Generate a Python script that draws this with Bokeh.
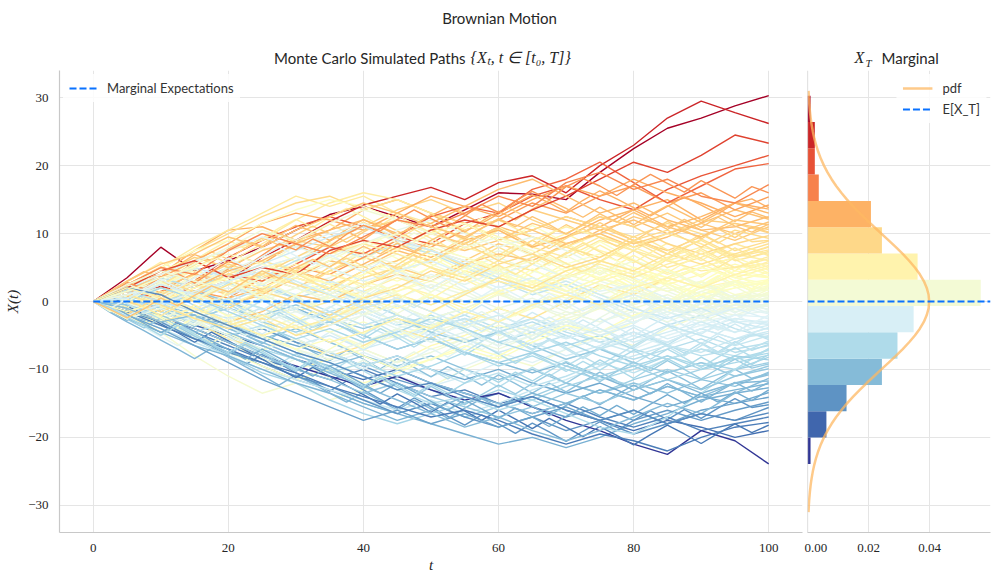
from bokeh.plotting import figure
from bokeh.layouts import column, row
from bokeh.models import (Range1d, ColumnDataSource, Legend, LegendItem, Span,
                          CustomJSTickFormatter, FixedTicker, NumeralTickFormatter)
from bokeh.core.properties import value
from bokeh.embed import file_html
from bokeh.resources import INLINE

# ---------------- data ----------------
t_values = [0, 5, 10, 15, 20, 25, 30, 35, 40, 45, 50, 55, 60, 65, 70, 75, 80, 85, 90, 95, 100]
t_fine = [0, 2.5, 5, 7.5, 10, 12.5, 15, 17.5, 20, 22.5, 25, 27.5, 30, 32.5, 35, 37.5, 40,
          42.5, 45, 47.5, 50, 52.5, 55, 57.5, 60, 62.5, 65, 67.5, 70, 72.5, 75, 77.5, 80,
          82.5, 85, 87.5, 90, 92.5, 95, 97.5, 100]

# simulated paths, values at t = 5, 10, ..., 100 (all start at X(0) = 0)
path_values = [
    [3.5, 8.0, 4.5, 6.0, 8.0, 10.5, 12.8, 14.0, 12.5, 11.0, 13.5, 16.0, 15.8, 15.0, 19.0, 22.5, 25.5, 27.0, 28.8, 30.3],
    [1.5, 2.2, 1.5, 3.0, 6.5, 9.0, 11.8, 14.2, 15.5, 16.8, 15.0, 17.5, 18.5, 16.0, 20.0, 23.0, 27.0, 29.5, 27.8, 26.2],
    [2.0, 4.5, 6.0, 3.5, 5.0, 4.0, 7.5, 9.0, 8.0, 10.5, 12.0, 11.0, 13.5, 15.5, 18.0, 20.5, 19.0, 21.5, 24.5, 23.3],
    [-1.0, 1.5, 3.0, 6.5, 9.0, 11.0, 12.5, 11.0, 9.5, 8.5, 11.5, 13.0, 15.5, 17.0, 15.0, 13.5, 16.5, 18.5, 20.0, 21.5],
    [1.5, 0.5, 2.5, 4.0, 3.0, 5.5, 8.0, 7.0, 9.5, 12.5, 14.0, 13.0, 16.5, 18.0, 20.5, 17.5, 14.5, 17.0, 19.5, 20.3],
    [2.5, 5.0, 4.0, 7.5, 10.0, 8.5, 7.0, 9.5, 12.0, 11.0, 13.0, 15.5, 14.0, 17.5, 19.0, 16.5, 18.0, 15.5, 14.5, 17.2],
    [-1.5, -0.5, 1.5, 0.5, 3.5, 5.0, 4.0, 6.5, 9.0, 8.0, 10.5, 12.0, 14.5, 13.0, 15.5, 17.0, 14.5, 16.0, 13.5, 15.4],
    [1.0, 3.5, 6.0, 8.5, 11.5, 13.0, 12.0, 10.5, 13.0, 15.5, 14.0, 12.5, 15.0, 17.0, 15.5, 18.0, 16.0, 14.5, 12.5, 14.2],
    [2.5, 4.0, 7.5, 10.5, 11.0, 9.0, 10.5, 13.5, 15.0, 13.0, 11.5, 9.0, 10.5, 12.5, 11.0, 13.5, 15.0, 12.0, 14.5, 13.6],
    [-0.5, 1.0, -1.5, 0.5, 2.0, 4.5, 3.0, 5.5, 8.0, 6.5, 9.0, 10.5, 8.0, 9.5, 12.0, 13.5, 11.0, 12.5, 14.5, 13.0],
    [1.5, 0.0, 2.0, 4.5, 6.0, 8.5, 10.5, 12.0, 10.0, 11.5, 14.0, 16.5, 18.0, 15.5, 13.0, 14.5, 12.0, 10.5, 11.0, 12.5],
    [2.0, 3.0, 1.5, -0.5, 1.0, 3.5, 6.0, 5.0, 7.5, 6.0, 8.5, 11.0, 9.5, 8.0, 10.5, 12.0, 10.0, 11.5, 13.5, 12.1],
    [-1.0, -2.5, -1.0, -3.0, -1.5, 1.0, 0.0, 2.5, 4.0, 3.0, 5.5, 7.0, 6.0, 8.5, 10.0, 8.0, 9.5, 11.5, 10.0, 11.7],
    [3.0, 5.5, 7.0, 9.5, 8.0, 10.5, 12.5, 14.5, 13.0, 11.0, 9.5, 12.0, 10.5, 8.5, 10.0, 12.5, 11.0, 9.5, 12.0, 11.3],
    [0.5, 2.0, 4.0, 3.0, 1.5, 3.5, 2.0, 4.5, 6.0, 8.5, 7.5, 9.0, 11.5, 10.0, 12.5, 11.0, 13.0, 10.5, 9.0, 11.0],
    [1.5, 4.0, 6.5, 5.0, 7.5, 9.0, 8.0, 10.5, 12.0, 10.0, 8.5, 11.0, 13.5, 12.0, 10.5, 8.5, 10.0, 12.0, 11.5, 10.6],
    [-1.5, 0.5, 2.5, 1.0, 3.5, 2.0, 4.5, 6.5, 5.0, 3.5, 6.0, 8.5, 7.0, 9.5, 11.0, 9.0, 7.5, 9.5, 11.5, 10.1],
    [2.0, 0.5, 3.0, 5.5, 4.0, 6.5, 9.0, 11.0, 13.5, 15.0, 13.0, 14.5, 12.0, 10.0, 12.5, 11.0, 8.5, 7.0, 8.5, 9.7],
    [0.0, -1.5, 0.5, -1.0, 1.5, 0.0, -2.0, 0.5, 2.0, 4.5, 3.0, 5.5, 7.0, 5.0, 6.5, 9.0, 10.5, 8.0, 10.5, 9.3],
    [2.5, 5.0, 7.5, 10.0, 12.5, 14.5, 15.5, 13.5, 15.0, 13.0, 11.5, 9.0, 10.5, 12.5, 11.0, 9.5, 11.5, 10.0, 7.5, 8.9],
    [-0.5, 1.5, 0.0, 2.5, 4.0, 2.5, 1.0, 3.5, 5.0, 7.5, 6.0, 4.5, 6.5, 8.0, 6.5, 9.0, 7.0, 5.5, 7.0, 8.5],
    [1.0, -0.5, -2.5, -4.0, -2.5, -5.0, -3.5, -1.0, 0.5, -1.5, 1.0, 3.5, 2.0, 4.5, 6.0, 4.5, 7.0, 9.0, 6.5, 8.0],
    [-2.0, -4.5, -3.0, -5.5, -7.0, -5.5, -8.0, -6.5, -4.0, -5.5, -3.0, -1.0, -2.5, 0.0, 2.5, 1.0, 3.5, 5.0, 6.5, 7.6],
    [1.5, 3.0, 1.5, 4.0, 6.0, 4.5, 7.0, 8.5, 7.0, 5.0, 3.5, 6.0, 4.5, 7.0, 9.5, 8.0, 10.0, 8.5, 6.0, 7.2],
    [2.5, 5.0, 8.0, 10.5, 13.0, 15.5, 14.0, 15.5, 13.0, 11.5, 9.0, 10.5, 8.0, 6.5, 9.0, 7.5, 5.0, 6.5, 8.5, 6.9],
    [0.5, 2.5, 5.0, 7.5, 9.0, 12.0, 14.5, 16.0, 15.0, 13.0, 10.5, 12.0, 9.5, 8.0, 10.0, 7.5, 6.0, 4.5, 5.0, 6.6],
    [-1.0, -3.0, -1.5, -3.5, -2.0, -4.0, -2.5, -0.5, 1.0, -0.5, 1.5, 3.0, 1.5, 3.5, 5.0, 3.5, 5.5, 7.0, 5.0, 6.3],
    [1.0, -1.0, 0.5, 2.0, 0.5, -1.5, 0.0, 1.5, 3.5, 2.0, 4.5, 3.0, 1.5, 3.5, 5.5, 4.0, 6.5, 8.0, 7.0, 6.0],
    [-0.5, 1.0, 3.0, 1.5, 3.5, 5.5, 4.0, 2.5, 4.5, 6.0, 8.0, 6.5, 9.0, 11.0, 9.5, 8.0, 6.0, 7.5, 5.0, 5.6],
    [2.0, 0.5, -1.0, -3.0, -5.0, -3.5, -6.0, -4.5, -2.5, -4.0, -1.5, -3.0, -0.5, 1.0, -0.5, 2.0, 3.5, 2.0, 4.0, 5.3],
    [1.5, 3.5, 2.0, 4.5, 3.0, 5.0, 7.0, 9.0, 7.5, 10.0, 11.5, 9.5, 8.0, 10.0, 7.5, 6.0, 4.0, 5.5, 3.5, 5.0],
    [-2.5, -1.0, 1.0, -0.5, 1.5, 3.5, 2.0, 0.5, 2.5, 1.0, -1.0, 1.0, 2.5, 1.0, 3.0, 4.5, 3.0, 5.0, 6.5, 4.6],
    [0.5, -2.0, -4.0, -6.0, -8.5, -10.0, -8.5, -7.0, -9.0, -6.5, -5.0, -3.0, -4.5, -2.0, -0.5, 1.0, -0.5, 2.0, 3.0, 4.3],
    [1.0, 2.5, 4.5, 3.0, 5.0, 6.5, 5.0, 3.0, 1.5, 3.5, 5.5, 4.0, 2.5, 4.5, 6.0, 4.5, 2.5, 4.0, 5.5, 4.0],
    [-1.5, 0.0, 2.0, 3.5, 2.0, 4.0, 2.5, 0.5, -1.0, 1.0, -0.5, 1.5, 3.0, 1.5, 3.5, 5.0, 3.5, 2.0, 4.5, 3.7],
    [2.0, 4.5, 6.5, 5.0, 3.0, 4.5, 2.5, 4.0, 6.0, 8.0, 6.5, 5.0, 3.0, 1.0, -0.5, 1.5, 3.5, 2.0, 4.0, 3.5],
    [-0.5, -2.5, -1.0, -3.0, -5.0, -7.0, -5.5, -8.0, -10.0, -8.5, -6.5, -8.0, -5.5, -3.5, -4.5, -2.0, -0.5, 1.0, 2.5, 3.2],
    [1.0, 3.0, 1.5, 3.5, 5.5, 4.0, 6.0, 4.5, 3.0, 5.0, 3.5, 1.5, 3.0, 5.0, 3.5, 1.5, 3.0, 1.0, 2.0, 3.0],
    [-1.0, -3.5, -5.5, -7.5, -9.5, -11.5, -10.0, -12.0, -10.5, -8.5, -7.0, -8.5, -6.0, -4.0, -5.5, -3.0, -1.5, 0.5, 2.0, 2.8],
    [2.5, 5.0, 7.5, 9.0, 11.5, 13.5, 15.0, 14.0, 12.0, 10.0, 11.5, 9.0, 7.5, 5.5, 7.0, 5.0, 3.5, 5.0, 3.5, 2.6],
    [0.5, -1.0, 1.0, -0.5, 1.5, 0.0, -2.0, -0.5, 1.5, 3.0, 1.5, 3.5, 2.0, 0.5, 2.0, 4.0, 2.5, 1.0, 3.0, 2.4],
    [-1.5, -3.0, -1.5, 0.5, -1.0, -3.0, -4.5, -3.0, -5.0, -3.5, -1.5, -3.0, -1.0, 1.0, -0.5, 1.5, 0.0, 2.0, 0.5, 2.2],
    [1.5, 3.5, 5.0, 7.0, 5.5, 4.0, 6.0, 8.5, 10.0, 8.0, 6.5, 4.5, 6.0, 3.5, 5.0, 3.0, 1.5, 3.0, 1.0, 2.0],
    [-0.5, 1.5, 0.0, -2.0, -4.0, -2.5, -4.5, -6.5, -5.0, -7.0, -5.5, -3.5, -5.0, -3.0, -1.0, -2.5, -0.5, 1.0, -0.5, 1.8],
    [2.0, 0.5, 2.5, 4.0, 2.5, 4.5, 6.5, 5.0, 7.0, 5.5, 3.5, 5.0, 3.0, 1.5, 3.5, 2.0, 0.0, 1.5, 3.0, 1.6],
    [-2.0, -4.5, -8.0, -11.0, -13.5, -12.0, -14.5, -13.0, -11.0, -12.5, -10.0, -8.0, -9.5, -7.0, -5.0, -6.5, -4.0, -2.0, -0.5, 1.4],
    [0.5, 2.0, 0.5, 2.5, 1.0, -1.0, 0.5, 2.5, 1.0, -0.5, 1.5, 3.5, 2.0, 4.0, 2.5, 0.5, 2.0, 0.0, -1.0, 1.2],
    [1.5, 3.0, 5.5, 8.0, 10.5, 9.0, 11.5, 13.5, 12.0, 10.0, 8.0, 9.5, 7.0, 5.5, 4.0, 6.0, 4.5, 2.5, 0.5, 1.0],
    [-1.0, 0.5, -1.5, -3.5, -2.0, -4.0, -2.5, -1.0, -3.0, -4.5, -3.0, -5.0, -3.5, -1.5, -3.0, -1.0, 0.5, -1.0, 1.0, 0.8],
    [0.5, -1.5, -3.5, -2.0, 0.0, 2.0, 0.5, 2.5, 4.5, 3.0, 5.0, 3.5, 1.5, 3.0, 1.0, -0.5, 1.0, -1.0, -0.5, 0.6],
    [2.5, 4.5, 3.0, 1.5, 3.5, 2.0, 0.0, -2.0, -0.5, -2.5, -1.0, 1.0, -0.5, -2.5, -1.0, 0.5, -1.0, 1.5, 0.0, 0.4],
    [-1.5, -3.0, -5.0, -3.5, -5.5, -7.0, -8.5, -7.0, -9.0, -7.5, -5.5, -7.0, -5.0, -3.5, -5.0, -3.0, -1.5, -3.0, -1.0, 0.2],
    [1.0, -0.5, 1.5, 3.0, 5.0, 3.5, 5.5, 7.0, 5.5, 3.5, 5.0, 6.5, 4.5, 3.0, 1.0, 2.5, 0.5, -1.5, 0.5, 0.0],
    [-0.5, 1.5, 3.5, 5.5, 4.0, 6.5, 8.5, 7.0, 9.0, 7.0, 5.5, 7.5, 5.5, 3.5, 5.0, 3.0, 1.5, -0.5, 1.0, -0.1],
    [1.5, 0.0, -2.0, -0.5, -2.5, -1.0, 1.0, -1.0, 0.5, 2.5, 1.0, -1.0, 0.5, -1.5, -3.0, -1.5, -3.0, -1.0, -2.0, -0.3],
    [-2.5, -1.0, -3.0, -5.0, -7.0, -5.5, -7.5, -6.0, -4.0, -2.5, -4.0, -2.0, -0.5, -2.0, 0.0, 1.5, 0.0, -2.0, -1.0, -0.5],
    [0.5, 2.5, 4.0, 2.5, 0.5, 2.0, 3.5, 5.5, 4.0, 2.0, 0.0, 1.5, -0.5, 1.0, 3.0, 1.5, -0.5, 1.0, -1.5, -0.6],
    [-1.0, 1.0, 2.5, 4.5, 6.5, 8.0, 6.5, 8.5, 10.5, 12.0, 10.0, 8.0, 9.5, 7.5, 5.0, 3.5, 1.5, 3.0, 0.5, -0.8],
    [1.0, 2.5, 1.0, -1.0, -3.0, -1.5, -3.5, -2.0, -4.0, -6.0, -4.5, -6.5, -5.0, -3.0, -4.5, -2.5, -1.0, -2.5, -0.5, -1.1],
    [-1.5, -3.5, -2.0, -4.0, -2.5, -0.5, 1.5, 0.0, 2.0, 4.0, 2.5, 4.5, 3.0, 1.0, -1.0, 0.5, -1.5, -3.0, -2.0, -1.4],
    [2.0, 4.0, 6.0, 7.5, 9.5, 8.0, 10.0, 11.5, 9.5, 7.5, 6.0, 4.0, 5.5, 3.5, 1.5, 2.5, 0.5, -1.5, 0.0, -1.7],
    [-0.5, -2.0, -4.5, -6.5, -5.0, -7.0, -9.0, -7.5, -9.5, -11.0, -9.5, -7.5, -9.0, -7.0, -5.5, -7.0, -5.0, -3.5, -4.5, -2.0],
    [0.5, -1.0, 0.5, 2.0, 0.5, -1.5, -3.0, -1.5, -3.5, -5.0, -3.5, -2.0, -4.0, -2.5, -4.5, -3.0, -1.5, -3.5, -2.0, -2.3],
    [-2.0, -0.5, 1.5, 3.0, 5.0, 6.5, 5.0, 3.0, 4.5, 6.0, 4.0, 2.0, 3.5, 1.5, -0.5, 1.0, -1.0, -2.5, -1.0, -2.6],
    [1.5, -0.5, -2.5, -4.5, -6.5, -8.5, -10.5, -9.0, -11.0, -12.5, -11.0, -9.0, -10.5, -8.5, -7.0, -5.0, -6.5, -4.5, -3.0, -2.9],
    [-1.0, -2.5, -1.0, 1.0, 2.5, 1.0, 3.0, 1.5, -0.5, -2.5, -1.0, -3.0, -4.5, -3.0, -5.0, -3.5, -5.5, -4.0, -2.5, -3.2],
    [0.5, 2.5, 1.0, 3.0, 4.5, 3.0, 1.0, -1.0, 0.5, -1.5, -3.5, -2.0, -4.0, -5.5, -4.0, -6.0, -4.5, -3.0, -4.5, -3.5],
    [-1.5, -3.0, -4.5, -3.0, -5.0, -6.5, -5.0, -7.0, -5.5, -3.5, -5.5, -7.5, -6.0, -8.0, -6.5, -4.5, -6.0, -4.0, -5.5, -3.8],
    [1.0, 3.0, 5.0, 3.5, 5.5, 7.5, 9.5, 11.0, 9.0, 7.5, 5.5, 3.5, 1.5, 3.0, 1.0, -1.0, -2.5, -1.0, -3.0, -4.1],
    [-0.5, 1.0, -1.0, -2.5, -1.0, -3.0, -1.5, -3.5, -5.5, -4.0, -6.0, -4.5, -2.5, -4.0, -6.0, -7.5, -6.0, -4.0, -5.5, -4.4],
    [-2.0, -4.0, -6.0, -8.0, -10.0, -11.5, -13.0, -14.5, -16.0, -14.5, -16.5, -15.0, -13.0, -11.5, -9.5, -8.0, -6.5, -7.5, -5.5, -4.7],
    [1.5, 0.0, -1.5, 0.5, -1.0, -3.0, -1.5, -3.5, -2.0, -4.0, -2.5, -4.5, -6.5, -5.0, -7.0, -5.5, -3.5, -5.0, -6.5, -5.0],
    [-1.0, 1.0, 3.0, 5.0, 3.5, 6.0, 8.0, 6.5, 8.5, 7.0, 5.0, 3.0, 1.0, 2.5, 0.5, -1.5, -3.5, -2.0, -4.0, -5.4],
    [0.5, -1.5, -3.0, -5.0, -3.5, -5.5, -7.5, -9.5, -8.0, -10.0, -12.0, -10.5, -12.5, -11.0, -9.0, -10.5, -8.5, -7.0, -8.0, -5.8],
    [-1.5, 0.0, 1.5, 0.0, 2.0, 0.5, -1.5, 0.0, -2.0, -3.5, -2.0, -4.0, -2.5, -4.5, -6.0, -4.5, -6.5, -8.0, -7.0, -6.1],
    [2.0, 3.5, 2.0, 4.0, 2.5, 0.5, 2.0, 0.0, -2.0, -4.0, -2.5, -4.5, -3.0, -5.0, -7.0, -8.5, -7.0, -5.5, -7.5, -6.5],
    [-0.5, -2.5, -4.5, -3.0, -5.5, -7.5, -9.0, -11.0, -13.0, -15.0, -14.0, -16.0, -14.5, -16.5, -18.5, -19.5, -17.0, -13.5, -10.0, -6.9],
    [1.0, -0.5, 1.0, 2.5, 1.0, -1.0, -3.0, -1.5, -3.5, -2.0, -4.0, -6.0, -4.5, -6.5, -5.0, -7.0, -8.5, -7.0, -8.5, -7.2],
    [-2.5, -4.5, -3.0, -5.0, -7.0, -8.5, -10.5, -9.0, -11.0, -9.5, -7.5, -9.5, -8.0, -10.0, -11.5, -10.0, -8.0, -9.5, -8.5, -7.6],
    [0.0, 2.0, 0.5, -1.5, -3.5, -5.5, -4.0, -6.0, -4.5, -2.5, -4.0, -6.0, -7.5, -6.0, -8.0, -9.5, -8.0, -10.0, -9.0, -7.9],
    [-1.0, -3.0, -5.5, -8.0, -10.5, -12.0, -14.5, -16.5, -18.0, -16.5, -15.0, -13.0, -14.5, -12.5, -11.0, -12.5, -10.5, -9.0, -10.0, -8.2],
    [0.5, -1.0, -2.5, -1.0, -3.0, -4.5, -3.0, -5.0, -7.0, -5.5, -7.5, -9.0, -7.5, -9.5, -11.0, -9.5, -11.5, -10.0, -8.0, -8.6],
    [-1.5, -3.5, -5.5, -7.5, -9.0, -11.0, -13.0, -15.0, -16.5, -15.0, -17.0, -15.5, -14.0, -12.0, -13.5, -11.5, -10.0, -11.5, -10.0, -9.0],
    [1.5, 3.0, 1.5, 0.0, -2.0, -0.5, -2.5, -4.0, -2.5, -4.5, -6.0, -4.5, -6.5, -8.5, -7.0, -9.0, -10.5, -9.0, -11.0, -9.5],
    [-0.5, -2.0, -4.0, -6.0, -8.0, -10.0, -11.5, -13.5, -12.0, -14.0, -15.5, -17.0, -15.5, -13.5, -15.0, -13.0, -11.5, -13.0, -11.0, -9.9],
    [-2.0, -3.5, -2.0, -4.0, -5.5, -4.0, -6.0, -8.0, -9.5, -8.0, -10.0, -11.5, -10.0, -12.0, -13.5, -12.0, -13.5, -11.5, -12.5, -10.4],
    [1.0, -0.5, -2.0, -4.0, -6.0, -8.0, -9.5, -8.0, -10.0, -12.0, -13.5, -15.0, -16.5, -15.0, -13.0, -14.5, -12.5, -14.0, -12.0, -10.8],
    [-1.0, -3.0, -2.0, -4.5, -6.5, -8.5, -10.5, -12.5, -14.5, -16.5, -18.5, -17.0, -19.0, -20.5, -19.0, -17.0, -15.0, -16.5, -13.5, -11.3],
    [0.5, 2.0, 0.5, -1.0, -2.5, -1.0, -3.0, -5.0, -7.0, -5.5, -7.5, -9.0, -10.5, -9.0, -11.0, -13.0, -11.5, -13.5, -12.0, -11.7],
    [-2.5, -4.5, -6.5, -8.0, -10.0, -12.0, -13.5, -15.5, -17.5, -16.0, -14.0, -15.5, -13.5, -15.0, -13.0, -14.5, -12.5, -14.0, -13.0, -12.1],
    [-1.0, -3.0, -5.0, -7.0, -9.5, -11.5, -13.0, -15.0, -16.5, -18.0, -19.5, -21.0, -20.0, -21.5, -20.0, -18.0, -16.5, -14.5, -13.5, -12.7],
    [1.0, -0.5, -2.0, -3.5, -5.0, -6.5, -8.0, -9.5, -8.0, -10.0, -11.5, -10.0, -12.0, -13.5, -12.0, -14.0, -15.5, -14.0, -15.0, -13.4],
    [-2.0, -4.0, -6.5, -9.0, -11.5, -13.5, -15.5, -17.5, -16.0, -18.0, -16.5, -18.5, -17.0, -15.5, -17.5, -16.0, -18.0, -16.0, -15.0, -14.1],
    [0.5, -1.5, -3.0, -5.0, -4.0, -6.0, -7.5, -9.5, -11.5, -13.0, -15.0, -13.5, -15.5, -17.0, -15.5, -17.5, -16.0, -17.5, -16.0, -14.8],
    [-1.5, -3.0, -5.5, -7.5, -9.0, -11.0, -12.5, -14.5, -16.5, -15.0, -17.0, -18.5, -17.0, -19.0, -17.5, -19.5, -18.0, -16.5, -17.5, -15.6],
    [2.0, 1.0, -1.5, -3.5, -5.5, -7.5, -9.0, -11.0, -13.0, -12.0, -14.0, -15.5, -14.0, -16.0, -17.5, -16.0, -18.0, -16.5, -17.5, -16.4],
    [-1.0, -2.5, -4.5, -6.5, -8.5, -10.0, -11.5, -10.0, -12.0, -14.0, -13.0, -15.0, -16.5, -15.0, -17.0, -18.5, -17.0, -19.0, -18.0, -17.0],
    [-1.5, -3.5, -5.5, -7.0, -9.0, -10.5, -12.5, -14.0, -15.5, -17.0, -16.0, -17.5, -19.5, -21.0, -19.5, -20.5, -22.0, -20.0, -18.5, -17.8],
    [0.5, -1.5, -3.5, -5.0, -6.5, -8.5, -10.0, -11.5, -10.0, -12.0, -13.5, -15.0, -14.0, -16.0, -17.5, -19.0, -17.5, -18.5, -20.0, -19.0],
    [-1.0, -2.5, -4.0, -6.0, -8.0, -9.5, -11.0, -12.5, -11.0, -13.0, -14.5, -13.5, -15.5, -17.5, -19.0, -21.0, -22.5, -19.0, -20.5, -23.9],
]

# more simulated paths, values at t = 2.5, 5, ..., 100
path_values_fine = [
    [1.2, 2.8, 1.9, 3.6, 4.1, 2.7, 4.4, 5.9, 5.1, 6.8, 8.5, 7.6, 9.2, 8.1, 9.9, 11.2, 10.4, 12.1, 13.5, 12.2, 11.0, 12.6, 14.3, 13.1, 14.8, 16.2, 15.0, 16.9, 18.1, 17.0, 15.6, 17.2, 18.7, 17.4, 16.1, 17.8, 16.5, 15.2, 16.9, 16.0],
    [-0.8, 0.6, 2.1, 1.3, 2.9, 4.2, 3.1, 4.8, 6.3, 5.5, 7.1, 8.4, 7.2, 8.9, 10.3, 9.1, 10.8, 12.0, 11.1, 12.6, 13.9, 12.7, 11.5, 12.9, 14.4, 15.7, 14.5, 13.2, 14.9, 16.3, 15.1, 13.8, 12.6, 14.0, 15.4, 14.2, 12.9, 14.5, 15.1, 13.8],
    [1.5, 3.0, 4.4, 3.6, 5.3, 6.9, 6.0, 7.7, 9.0, 8.1, 9.8, 11.2, 10.3, 9.0, 10.6, 12.1, 11.0, 9.7, 11.3, 12.8, 11.6, 10.2, 11.8, 13.3, 12.0, 13.6, 14.9, 13.7, 12.4, 13.9, 12.6, 11.3, 12.8, 14.1, 12.9, 11.6, 13.0, 11.8, 13.2, 12.3],
    [-1.2, -2.4, -1.1, 0.5, -0.6, 0.9, 2.3, 1.4, 3.0, 4.5, 3.4, 5.0, 6.2, 5.1, 6.7, 8.1, 7.0, 8.6, 7.4, 9.0, 10.3, 9.2, 10.8, 12.2, 11.0, 12.5, 11.3, 9.9, 11.4, 12.9, 11.7, 13.1, 11.9, 10.6, 12.1, 10.9, 12.4, 11.1, 10.2, 11.4],
    [0.9, 2.2, 3.8, 5.1, 4.2, 5.8, 7.3, 6.2, 7.9, 9.4, 8.3, 9.8, 11.1, 10.0, 8.7, 10.2, 11.6, 10.4, 9.1, 10.6, 9.3, 7.9, 9.4, 10.8, 9.6, 8.2, 9.8, 11.3, 10.1, 11.6, 10.3, 8.9, 10.4, 11.8, 10.5, 9.2, 10.7, 9.4, 11.0, 10.2],
    [-0.7, -1.9, -0.5, 0.9, 2.4, 1.3, 2.8, 4.1, 3.0, 1.7, 3.2, 4.6, 3.5, 5.1, 6.4, 5.2, 3.9, 5.4, 6.9, 5.7, 7.2, 8.6, 7.3, 6.0, 7.6, 9.0, 7.8, 9.3, 10.7, 9.4, 8.1, 9.6, 8.3, 7.0, 8.5, 9.9, 8.6, 10.0, 8.8, 9.0],
    [1.3, 0.2, 1.7, 3.2, 2.0, 3.6, 2.3, 1.0, 2.5, 3.9, 5.4, 4.2, 2.9, 4.5, 5.8, 7.3, 6.0, 4.7, 6.2, 7.7, 6.4, 5.1, 6.6, 8.0, 6.8, 5.5, 7.0, 8.5, 7.2, 5.9, 7.4, 8.8, 7.6, 6.3, 7.8, 9.2, 8.0, 6.7, 7.3, 8.1],
    [0.6, 1.9, 3.5, 2.3, 3.9, 5.4, 6.8, 5.6, 7.1, 8.5, 9.9, 8.6, 10.1, 11.4, 10.2, 11.7, 10.4, 9.1, 10.6, 9.3, 8.0, 9.5, 8.2, 6.8, 8.3, 7.0, 5.7, 7.2, 8.6, 7.3, 6.0, 7.5, 8.9, 7.6, 6.3, 7.8, 6.5, 7.9, 6.6, 7.4],
    [-1.0, 0.4, -0.8, -2.1, -0.7, 0.8, -0.4, 1.1, 2.5, 1.2, 2.7, 4.1, 2.9, 1.6, 3.1, 4.6, 3.3, 4.8, 6.2, 5.0, 3.7, 5.2, 6.6, 5.3, 4.0, 5.5, 6.9, 5.6, 4.3, 5.8, 7.2, 6.0, 4.7, 6.2, 7.6, 6.3, 5.0, 6.5, 7.8, 6.7],
    [1.4, 2.9, 4.3, 5.8, 4.6, 6.1, 7.6, 9.0, 7.8, 9.3, 10.8, 12.1, 10.9, 12.4, 13.7, 12.5, 11.2, 12.7, 11.4, 10.1, 11.6, 10.3, 9.0, 10.5, 9.2, 7.9, 9.4, 8.1, 6.8, 8.3, 7.0, 5.7, 7.2, 8.6, 7.3, 6.0, 7.5, 6.2, 4.9, 5.9],
    [0.5, -0.9, 0.6, -0.7, -2.0, -0.5, -1.8, -3.2, -1.7, -3.0, -4.4, -2.9, -1.5, -2.8, -1.3, 0.1, -1.2, 0.3, 1.7, 0.4, 1.9, 3.3, 2.0, 3.5, 4.9, 3.6, 2.3, 3.8, 5.2, 3.9, 5.4, 6.8, 5.5, 4.2, 5.7, 7.1, 5.8, 4.5, 6.0, 5.0],
    [-0.6, 0.8, 2.3, 1.0, 2.5, 3.9, 2.6, 1.3, 2.8, 4.2, 5.7, 4.4, 3.1, 4.6, 3.3, 2.0, 3.5, 4.9, 3.6, 5.1, 6.5, 5.2, 3.9, 5.4, 4.1, 2.8, 4.3, 5.7, 4.4, 3.1, 4.6, 3.3, 2.0, 3.5, 4.9, 3.6, 5.1, 3.8, 5.2, 4.2],
    [1.1, 2.5, 1.2, -0.1, 1.4, 0.1, -1.2, 0.3, -1.0, -2.4, -0.9, -2.2, -3.6, -2.1, -3.4, -4.8, -3.3, -1.9, -3.2, -1.7, -0.3, -1.6, -0.1, 1.3, 0.0, 1.5, 2.9, 1.6, 0.3, 1.8, 3.2, 1.9, 3.4, 4.8, 3.5, 2.2, 3.7, 5.1, 3.8, 3.6],
    [-1.3, -2.6, -1.1, -2.4, -3.8, -2.3, -0.9, -2.2, -0.7, 0.7, -0.6, 0.9, 2.3, 1.0, 2.5, 3.9, 5.4, 4.1, 5.6, 7.0, 5.7, 4.4, 5.9, 4.6, 3.3, 4.8, 3.5, 2.2, 3.7, 5.1, 3.8, 2.5, 4.0, 2.7, 1.4, 2.9, 4.3, 3.0, 1.9, 3.3],
    [0.8, 2.2, 3.7, 2.4, 3.9, 5.3, 6.8, 5.5, 4.2, 5.7, 7.1, 5.8, 7.3, 8.7, 7.4, 6.1, 7.6, 6.3, 5.0, 6.5, 5.2, 3.9, 5.4, 4.1, 2.8, 4.3, 5.7, 4.4, 3.1, 4.6, 3.3, 2.0, 3.5, 2.2, 0.9, 2.4, 3.8, 2.5, 1.6, 2.9],
    [-0.9, -2.3, -3.6, -2.1, -3.4, -4.8, -6.1, -4.6, -5.9, -7.3, -5.8, -7.1, -8.5, -7.0, -5.6, -6.9, -5.4, -4.0, -5.3, -3.8, -2.4, -3.7, -2.2, -0.8, -2.1, -0.6, 0.8, -0.5, 1.0, -0.3, 1.2, 2.6, 1.3, 0.0, 1.5, 2.9, 1.6, 3.1, 1.8, 2.3],
    [1.2, -0.1, 1.4, 2.8, 1.5, 0.2, 1.7, 3.1, 1.8, 0.5, 2.0, 0.7, -0.6, 0.9, -0.4, 1.1, 2.5, 1.2, -0.1, 1.4, 2.8, 4.3, 3.0, 4.5, 3.2, 1.9, 3.4, 2.1, 0.8, 2.3, 1.0, -0.3, 1.2, 2.6, 1.3, 0.0, 1.5, 2.9, 1.4, 1.7],
    [0.4, 1.8, 0.5, 2.0, 3.4, 4.9, 3.6, 5.1, 6.5, 8.0, 6.7, 8.2, 9.6, 8.3, 9.8, 11.2, 9.9, 8.6, 10.1, 8.8, 7.5, 9.0, 7.7, 6.4, 7.9, 6.6, 5.3, 6.8, 5.5, 4.2, 5.7, 4.4, 3.1, 4.6, 3.3, 2.0, 3.5, 2.2, 0.9, 1.1],
    [-1.5, -0.1, -1.4, -2.8, -1.3, -2.6, -4.0, -2.5, -3.8, -5.2, -3.7, -5.0, -3.5, -2.1, -3.4, -1.9, -0.5, -1.8, -0.3, 1.1, -0.2, 1.3, 2.7, 1.4, 0.1, 1.6, 0.3, -1.0, 0.5, -0.8, 0.7, 2.1, 0.8, -0.5, 1.0, -0.3, 1.2, -0.1, 1.3, 0.5],
    [0.7, 2.1, 3.6, 2.3, 3.8, 2.5, 1.2, 2.7, 1.4, 2.9, 4.3, 3.0, 1.7, 3.2, 1.9, 0.6, 2.1, 0.8, -0.5, 1.0, -0.3, 1.2, 2.6, 1.3, 0.0, 1.5, 0.2, -1.1, 0.4, -0.9, 0.6, -0.7, -2.0, -0.5, -1.8, -0.3, 1.1, -0.2, -1.3, 0.0],
    [-0.8, -2.2, -3.5, -5.0, -3.7, -5.2, -6.6, -5.3, -6.8, -8.2, -9.7, -8.4, -9.9, -11.3, -10.0, -8.6, -10.1, -8.8, -7.4, -8.7, -7.2, -5.8, -7.1, -5.6, -4.2, -5.5, -4.0, -2.6, -3.9, -2.4, -1.0, -2.3, -0.8, 0.6, -0.7, 0.8, -0.5, 0.9, -0.6, -0.4],
    [1.3, 2.7, 1.4, 0.1, 1.6, 0.3, -1.0, 0.5, -0.8, -2.1, -0.6, 0.8, -0.5, 1.0, 2.4, 1.1, 2.6, 4.0, 2.7, 1.4, 2.9, 1.6, 0.3, 1.8, 0.5, -0.8, 0.7, -0.6, -1.9, -0.4, -1.7, -0.2, 1.2, -0.1, -1.4, 0.1, -1.2, 0.3, -1.0, -0.2],
    [-0.5, -1.8, -3.1, -1.6, -0.2, 1.3, 0.0, 1.5, 2.9, 4.4, 3.1, 4.6, 6.0, 7.5, 6.2, 7.7, 9.1, 7.8, 9.3, 10.7, 9.4, 10.9, 12.3, 11.0, 9.7, 11.2, 9.9, 8.6, 7.3, 8.8, 7.5, 6.2, 4.9, 6.4, 5.1, 3.8, 5.3, 4.0, 2.7, 2.6],
    [0.6, -0.8, 0.7, -0.6, -2.0, -3.4, -2.1, -3.6, -5.0, -3.7, -2.3, -3.6, -2.1, -0.7, -2.0, -0.5, -1.8, -3.2, -1.7, -3.0, -4.4, -2.9, -1.5, -2.8, -1.3, 0.1, -1.2, 0.3, 1.7, 0.4, -0.9, 0.6, -0.7, -2.0, -0.5, -1.8, -0.4, -1.7, -0.3, -1.3],
    [-1.0, 0.4, 1.9, 3.3, 2.0, 3.5, 4.9, 6.4, 5.1, 6.6, 8.0, 6.7, 5.4, 6.9, 5.6, 4.3, 5.8, 4.5, 3.2, 1.9, 3.4, 2.1, 0.8, 2.3, 1.0, -0.3, 1.2, -0.1, -1.4, 0.1, -1.2, -2.5, -1.0, -2.3, -3.6, -2.1, -3.4, -1.9, -3.2, -2.1],
    [1.4, 0.1, -1.2, 0.3, -1.0, -2.3, -0.8, -2.1, -3.4, -4.8, -3.3, -4.6, -6.0, -4.5, -5.8, -7.2, -5.7, -4.3, -5.6, -4.1, -2.7, -4.0, -5.4, -3.9, -5.2, -3.7, -2.3, -3.6, -2.1, -0.7, -2.0, -3.3, -1.8, -3.1, -4.4, -2.9, -4.2, -2.7, -4.0, -2.8],
    [-0.7, -2.0, -0.5, 0.9, 2.4, 1.1, 2.6, 1.3, 0.0, -1.3, 0.2, -1.1, -2.4, -0.9, 0.5, -0.8, -2.1, -0.6, -1.9, -3.2, -1.7, -3.0, -4.4, -2.9, -4.2, -5.6, -4.1, -5.4, -3.9, -2.5, -3.8, -5.1, -3.6, -2.2, -3.5, -4.8, -3.3, -4.6, -3.1, -3.4],
    [0.3, 1.7, 3.2, 1.9, 3.4, 4.8, 3.5, 5.0, 3.7, 2.4, 3.9, 2.6, 1.3, 2.8, 1.5, 0.2, 1.7, 0.4, -0.9, 0.6, -0.7, -2.0, -0.5, -1.8, -3.1, -1.6, -2.9, -4.2, -2.7, -4.0, -5.3, -3.8, -5.1, -3.6, -4.9, -6.2, -4.7, -3.3, -4.6, -3.9],
    [-1.1, -2.5, -3.8, -5.2, -6.5, -5.0, -6.3, -7.7, -9.0, -7.5, -8.8, -10.2, -8.7, -7.3, -8.6, -10.0, -8.5, -9.8, -8.3, -6.9, -8.2, -6.7, -5.3, -6.6, -5.1, -3.7, -5.0, -3.5, -4.8, -3.3, -1.9, -3.2, -1.7, -0.3, -1.6, -0.2, -1.5, -2.8, -1.3, -1.8],
    [1.0, -0.3, -1.7, -0.2, -1.5, -2.9, -1.4, 0.0, -1.3, 0.2, -1.1, -2.5, -3.8, -2.3, -3.6, -5.0, -3.5, -4.8, -6.2, -4.7, -6.0, -7.4, -5.9, -4.5, -5.8, -7.2, -5.7, -7.0, -8.4, -6.9, -5.5, -6.8, -5.3, -6.6, -8.0, -6.5, -5.1, -6.4, -4.9, -5.2],
    [-1.4, -2.8, -1.3, -2.6, -4.0, -5.3, -6.7, -5.2, -6.5, -7.9, -9.2, -7.7, -9.0, -10.4, -8.9, -10.2, -11.6, -10.1, -8.7, -10.0, -11.4, -9.9, -11.2, -12.6, -11.1, -9.7, -11.0, -9.5, -8.1, -9.4, -7.9, -9.2, -7.7, -6.3, -7.6, -6.1, -7.4, -5.9, -7.2, -6.3],
    [0.4, 1.8, 0.5, -0.8, 0.7, -0.6, -1.9, -0.4, -1.7, -3.1, -1.6, -2.9, -4.3, -2.8, -4.1, -5.5, -4.0, -5.3, -6.7, -5.2, -6.5, -7.9, -6.4, -7.7, -9.1, -7.6, -8.9, -10.3, -8.8, -10.1, -8.6, -7.2, -8.5, -7.0, -8.3, -9.7, -8.2, -6.8, -8.1, -7.0],
    [-0.9, -2.3, -3.6, -5.0, -3.5, -4.8, -6.2, -7.5, -6.0, -7.3, -8.7, -10.0, -8.5, -9.8, -11.2, -12.5, -11.0, -12.3, -13.7, -12.2, -13.5, -12.0, -10.6, -11.9, -10.4, -11.7, -10.2, -8.8, -10.1, -8.6, -9.9, -11.3, -9.8, -8.4, -9.7, -8.2, -9.5, -8.0, -9.3, -7.8],
    [0.9, 2.3, 1.0, 2.5, 3.9, 2.6, 1.3, 2.8, 1.5, 0.2, -1.1, 0.4, -0.9, -2.2, -0.7, -2.0, -3.4, -1.9, -3.2, -4.6, -3.1, -4.4, -5.8, -4.3, -5.6, -7.0, -5.5, -6.8, -8.2, -6.7, -8.0, -6.5, -5.1, -6.4, -4.9, -6.2, -7.6, -6.1, -4.7, -5.6],
    [-1.2, -2.6, -3.9, -2.4, -3.7, -5.1, -6.4, -7.8, -6.3, -7.6, -9.0, -10.3, -8.8, -10.1, -11.5, -12.8, -11.3, -12.6, -14.0, -12.5, -13.8, -15.2, -13.7, -12.3, -13.6, -12.1, -10.7, -12.0, -10.5, -11.8, -10.3, -8.9, -10.2, -8.7, -10.0, -11.4, -9.9, -8.5, -9.8, -9.2],
    [0.2, -1.2, -2.5, -1.0, -2.3, -3.7, -2.2, -3.5, -4.9, -6.2, -4.7, -6.0, -7.4, -8.7, -7.2, -8.5, -9.9, -8.4, -9.7, -11.1, -9.6, -10.9, -12.3, -10.8, -12.1, -13.5, -12.0, -13.3, -11.8, -10.4, -11.7, -13.1, -11.6, -10.2, -11.5, -12.9, -11.4, -10.0, -11.3, -10.6],
    [-1.6, -3.0, -4.3, -5.7, -7.0, -8.4, -6.9, -8.2, -9.6, -10.9, -12.3, -10.8, -12.1, -13.5, -14.8, -13.3, -14.6, -16.0, -14.5, -15.8, -17.2, -15.7, -14.3, -15.6, -14.1, -15.4, -16.8, -15.3, -13.9, -15.2, -13.7, -12.3, -13.6, -12.1, -13.4, -14.8, -13.3, -11.9, -13.2, -11.9],
    [-0.5, -1.9, -3.2, -4.6, -3.1, -4.4, -5.8, -7.1, -8.5, -7.0, -8.3, -9.7, -11.0, -9.5, -10.8, -12.2, -13.5, -12.0, -13.3, -14.7, -16.0, -14.5, -15.8, -17.2, -15.7, -17.0, -18.4, -16.9, -15.5, -16.8, -15.3, -16.6, -15.1, -13.7, -15.0, -13.5, -14.8, -13.3, -14.6, -13.0],
    [-1.3, -2.7, -1.2, -2.5, -3.9, -5.2, -6.6, -7.9, -9.3, -7.8, -9.1, -10.5, -11.8, -13.2, -11.7, -13.0, -14.4, -15.7, -14.2, -15.5, -16.9, -18.2, -16.7, -18.0, -19.4, -17.9, -19.2, -20.6, -19.1, -17.7, -19.0, -17.5, -16.1, -17.4, -15.9, -17.2, -15.7, -14.3, -15.6, -15.2],
    [0.8, -0.6, -1.9, -3.3, -4.6, -6.0, -4.5, -5.8, -7.2, -8.5, -9.9, -11.2, -9.7, -11.0, -12.4, -13.7, -15.1, -13.6, -14.9, -16.3, -14.8, -16.1, -17.5, -16.0, -17.3, -18.7, -17.2, -18.5, -19.9, -18.4, -19.7, -21.1, -19.6, -18.2, -19.5, -20.9, -19.4, -18.0, -19.3, -18.2],
]
x_start = 0.0
marginal_mean = [0.0] * len(t_values)     # E[X_t] = 0 for every t
terminal_mean = [0.0]                      # E[X_T]

# histogram of X_T (bin edges and densities, bottom to top)
hist_edges = [-23.9, -20.03, -16.16, -12.29, -8.42, -4.54, -0.67, 3.2, 7.07,
              10.94, 14.81, 18.69, 22.56, 26.43, 30.3]
hist_density = [0.0010, 0.0062, 0.0128, 0.0244, 0.0295, 0.0348, 0.0568,
                0.0361, 0.0244, 0.0208, 0.0037, 0.0024, 0.0024, 0.0010]

# theoretical pdf of X_T (level y -> density)
pdf_y = list(range(-31, 32))
pdf_density = [0.00033, 0.00044, 0.00059, 0.00079, 0.00104, 0.00136, 0.00175, 0.00224,
               0.00283, 0.00355, 0.00440, 0.00540, 0.00656, 0.00790, 0.00940, 0.01109,
               0.01295, 0.01497, 0.01714, 0.01942, 0.02179, 0.02420, 0.02661, 0.02897,
               0.03123, 0.03332, 0.03521, 0.03683, 0.03814, 0.03910, 0.03970, 0.03989,
               0.03970, 0.03910, 0.03814, 0.03683, 0.03521, 0.03332, 0.03123, 0.02897,
               0.02661, 0.02420, 0.02179, 0.01942, 0.01714, 0.01497, 0.01295, 0.01109,
               0.00940, 0.00790, 0.00656, 0.00540, 0.00440, 0.00355, 0.00283, 0.00224,
               0.00175, 0.00136, 0.00104, 0.00079, 0.00059, 0.00044, 0.00033]

y_ticks = [-30, -20, -10, 0, 10, 20, 30]
t_ticks = [0, 20, 40, 60, 80, 100]
dens_ticks = [0.0, 0.02, 0.04]

# ---------------- style ----------------
RDYLBU_R = ["#313695", "#4575b4", "#74add1", "#abd9e9", "#e0f3f8", "#ffffbf",
            "#fee090", "#fdae61", "#f46d43", "#d73027", "#a50026"]


def cmap(f):
    f = min(max(f, 0.0), 1.0)
    pos = f * (len(RDYLBU_R) - 1)
    i = min(int(pos), len(RDYLBU_R) - 2)
    fr = pos - i
    c0, c1 = RDYLBU_R[i], RDYLBU_R[i + 1]
    rgb = [round(int(c0[k:k + 2], 16) * (1 - fr) + int(c1[k:k + 2], 16) * fr) for k in (1, 3, 5)]
    return "#%02x%02x%02x" % tuple(rgb)


BLUE = "#0a72ff"
GRID = "#e5e5e5"
SPINE = "#c8c8c8"
TXT = "#262626"
SANS = "Lato"
SERIF = "Liberation Serif"

all_paths = ([(t_values, [x_start] + pv) for pv in path_values] +
             [(t_fine, [x_start] + pv) for pv in path_values_fine])
ends = [ys_[-1] for _, ys_ in all_paths]
lo, hi = min(ends), max(ends)
n = len(all_paths)
order = [(i * 37) % n for i in range(n)]
xs, ys, cols = [], [], []
for k in order:
    xs.append(all_paths[k][0])
    ys.append(all_paths[k][1])
    cols.append(cmap((ends[k] - lo) / (hi - lo)))
src = ColumnDataSource(dict(xs=xs, ys=ys, color=cols))

yr = Range1d(-34, 34)

# ---------------- title strip ----------------
top = figure(width=998, height=70, x_range=Range1d(0, 998), y_range=Range1d(0, 70),
             output_backend="svg", toolbar_location=None, min_border=0,
             x_axis_location=None, y_axis_location=None)
top.grid.visible = False
top.outline_line_color = None
top.text(x=[499], y=[53], text=["Brownian Motion"], text_align="center", text_baseline="middle",
         text_font=value(SANS), text_font_size="15px", text_color=TXT)
top.text(x=[465], y=[13], text=["Monte Carlo Simulated Paths"], text_align="right",
         text_baseline="middle", text_font=value(SANS), text_font_size="15px", text_color=TXT)
top.text(x=[470], y=[13], text=["{X\u209c, t \u2208 [t\u2080, T]}"], text_align="left",
         text_baseline="middle", text_font=value(SERIF), text_font_style="italic",
         text_font_size="16px", text_color=TXT)
top.text(x=[854], y=[13], text=["X"], text_align="left", text_baseline="middle",
         text_font=value(SERIF), text_font_style="italic", text_font_size="16px", text_color=TXT)
top.text(x=[865], y=[8], text=["T"], text_align="left", text_baseline="middle",
         text_font=value(SERIF), text_font_style="italic", text_font_size="11px", text_color=TXT)
top.text(x=[881], y=[13], text=["Marginal"], text_align="left", text_baseline="middle",
         text_font=value(SANS), text_font_size="15px", text_color=TXT)

# ---------------- main panel ----------------
p = figure(width=804, height=507, x_range=Range1d(-5, 105), y_range=yr,
           output_backend="svg", toolbar_location=None,
           min_border_left=59, min_border_right=2, min_border_top=0, min_border_bottom=45)
p.outline_line_color = None
p.multi_line(xs="xs", ys="ys", line_color="color", line_width=1.4, source=src)
exp_r = p.line(t_values, marginal_mean, line_color=BLUE, line_width=2.2, line_dash="7 3")

p.xaxis.ticker = FixedTicker(ticks=t_ticks)
p.yaxis.ticker = FixedTicker(ticks=y_ticks)
p.xaxis.formatter = CustomJSTickFormatter(code="return (tick < 0 ? '\u2212' : '') + Math.abs(tick);")
p.yaxis.formatter = CustomJSTickFormatter(code="return (tick < 0 ? '\u2212' : '') + Math.abs(tick);")
p.xaxis.axis_label = "t"
p.yaxis.axis_label = "X(t)"
for ax in (p.xaxis, p.yaxis):
    ax.axis_line_color = SPINE
    ax.axis_line_width = 1.2
    ax.major_tick_line_color = None
    ax.minor_tick_line_color = None
    ax.major_label_text_font = SERIF
    ax.major_label_text_font_size = "13px"
    ax.major_label_text_color = TXT
    ax.major_label_standoff = 5
    ax.axis_label_text_font = SERIF
    ax.axis_label_text_font_style = "italic"
    ax.axis_label_text_font_size = "15px"
    ax.axis_label_text_color = TXT
p.xaxis.axis_label_standoff = 2
p.yaxis.axis_label_standoff = 4
p.grid.grid_line_color = GRID
p.grid.grid_line_width = 1

leg = Legend(items=[LegendItem(label="Marginal Expectations", renderers=[exp_r])],
             location="top_left", margin=4, padding=6, border_line_alpha=0,
             background_fill_alpha=0.85, label_text_font=SANS, label_text_font_size="13px",
             label_text_color="#333333", glyph_width=28, glyph_height=16, label_height=16,
             spacing=4, label_standoff=10)
p.add_layout(leg)

# ---------------- marginal panel ----------------
h = figure(width=194, height=507, x_range=Range1d(0, 0.06), y_range=yr,
           output_backend="svg", toolbar_location=None,
           min_border_left=3, min_border_right=8, min_border_top=0, min_border_bottom=45)
h.outline_line_color = None
hist_colors = [cmap(i / (len(hist_density) - 1)) for i in range(len(hist_density))]
h.quad(left=0, right=hist_density, bottom=hist_edges[:-1], top=hist_edges[1:],
       fill_color=hist_colors, line_color=None)
pdf_r = h.line(pdf_density, pdf_y, line_color="#fdb863", line_alpha=0.75, line_width=2.5)
mean_r = h.hspan(y=terminal_mean, line_color=BLUE, line_width=2.2, line_dash="7 3")
h.yaxis.visible = False
h.add_layout(Span(location=0, dimension="height", line_color=SPINE, line_width=1.2))
h.xaxis.ticker = FixedTicker(ticks=dens_ticks)
h.xaxis.formatter = NumeralTickFormatter(format="0.00")
h.xaxis.axis_line_color = SPINE
h.xaxis.axis_line_width = 1.2
h.xaxis.major_tick_line_color = None
h.xaxis.minor_tick_line_color = None
h.xaxis.major_label_text_font = SERIF
h.xaxis.major_label_text_font_size = "13px"
h.xaxis.major_label_text_color = TXT
h.xaxis.major_label_standoff = 5
h.ygrid.ticker = FixedTicker(ticks=y_ticks)
h.grid.grid_line_color = GRID
h.grid.grid_line_width = 1

hleg = Legend(items=[LegendItem(label="pdf", renderers=[pdf_r]),
                     LegendItem(label="E[X_T]", renderers=[mean_r])],
              location="top_right", margin=4, padding=6, border_line_alpha=0,
              background_fill_alpha=0.85, label_text_font=SANS, label_text_font_size="13px",
              label_text_color="#333333", glyph_width=30, glyph_height=16, label_height=16,
              spacing=5, label_standoff=10)
h.add_layout(hleg)

layout = column(top, row(p, h))
open("out.html", "w", encoding="utf-8").write(file_html(layout, INLINE))
